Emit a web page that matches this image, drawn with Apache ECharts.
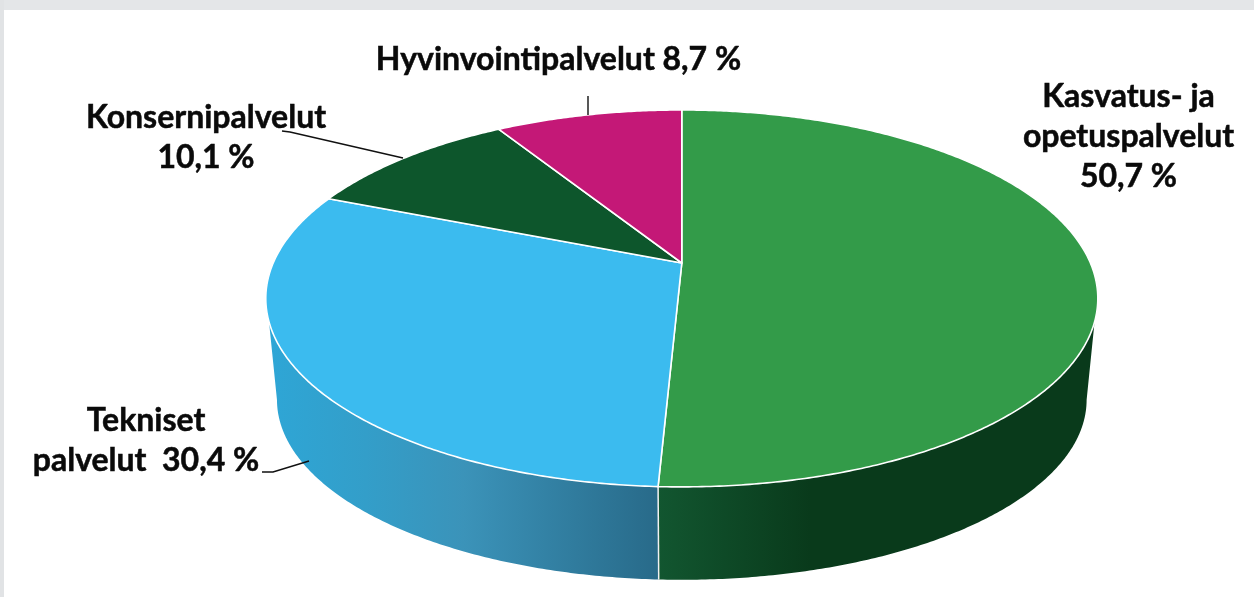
<!DOCTYPE html>
<html>
<head>
    <meta charset="utf-8">
    <script src="https://cdn.jsdelivr.net/npm/echarts@6/dist/echarts.min.js"></script>
    <style>
        html, body { margin: 0; padding: 0; background: #fff; }
    </style>
</head>
<body>
    <div id="main" style="width: 1254px;height:597px;"></div>

    <script>
        // data, clockwise from 12 o'clock
        var names = ['Kasvatus- ja\nopetuspalvelut', 'Tekniset\npalvelut ', 'Konsernipalvelut', 'Hyvinvointipalvelut'];
        var values = [50.7, 30.4, 10.1, 8.7];
        var separators = ['\n', ' ', '\n', ' '];

        var topColors = ['#339b49', '#3bbbef', '#0d562c', '#c41877'];

        // perspective of the tilted disc: top face and bottom face
        var topFace = { x: 681.8, y: 263, a: 408.6, b: 181.8, k: 0.188 };
        var bottomFace = { x: 681.8, y: 366, a: 397.6, b: 173.6, k: 0.188 };

        // where the rim is visible: [angle on top face, angle on bottom face]
        var rimStart = [107.8, 100.9];
        var rimEnd = [252.2, 259.1];

        var total = values.reduce(function (s, v) { return s + v; }, 0);
        var FONT = 'Lato';

        function startAngle(i) {
            var sum = 0;
            for (var n = 0; n < i; n++) sum += values[n];
            return sum / total * 360;
        }

        function project(face, deg) {
            var t = deg * Math.PI / 180;
            var X = Math.sin(t), Y = Math.cos(t);
            var w = 1 + face.k * Y;
            return [face.x + face.a * X / w, face.y - face.b * Y / w];
        }

        function arc(face, from, to) {
            var pts = [];
            var steps = Math.max(2, Math.ceil(Math.abs(to - from) * 2));
            for (var s = 0; s <= steps; s++) {
                pts.push(project(face, from + (to - from) * s / steps));
            }
            return pts;
        }

        function sideGradient(i) {
            if (i == 0) {
                return new echarts.graphic.LinearGradient(0, 0, 1, 0, [
                    { offset: 0, color: '#125630' },
                    { offset: 0.35, color: '#093a1b' },
                    { offset: 1, color: '#093a1b' }
                ]);
            }
            return new echarts.graphic.LinearGradient(0, 0, 1, 0, [
                { offset: 0, color: '#2ea6d6' },
                { offset: 0.25, color: '#339ec9' },
                { offset: 0.5, color: '#3b93b9' },
                { offset: 1, color: '#286a89' }
            ]);
        }

        function renderSide(params, api) {
            var i = params.dataIndex;
            var a0 = startAngle(i), a1 = a0 + api.value(0) / total * 360;
            var pts = null;
            if (i == 0) {
                pts = arc(topFace, rimStart[0], a1).concat(arc(bottomFace, a1, rimStart[1]));
            } else if (i == 1) {
                pts = arc(topFace, a0, rimEnd[0]).concat(arc(bottomFace, rimEnd[1], a0));
            }
            if (!pts) return null;
            return {
                type: 'polygon',
                shape: { points: pts },
                style: { fill: sideGradient(i), stroke: null }
            };
        }

        function renderSeam(params, api) {
            var a = values[0] / total * 360;
            return {
                type: 'line',
                shape: {
                    x1: project(topFace, a)[0], y1: project(topFace, a)[1],
                    x2: project(bottomFace, a)[0], y2: project(bottomFace, a)[1]
                },
                style: { stroke: '#f2f2f2', lineWidth: 1.5 }
            };
        }

        function renderTop(params, api) {
            var i = params.dataIndex;
            var a0 = startAngle(i), a1 = a0 + api.value(0) / total * 360;
            var pts = [[topFace.x, topFace.y]].concat(arc(topFace, a0, a1));
            return {
                type: 'polygon',
                shape: { points: pts },
                style: { fill: topColors[i], stroke: '#ffffff', lineWidth: 1.6, lineJoin: 'round' }
            };
        }

        function labelText(i) {
            return names[i] + separators[i] + values[i].toFixed(1).replace('.', ',') + ' %';
        }

        function label(i, x, y) {
            return {
                type: 'text',
                x: x,
                y: y,
                z: 20,
                style: {
                    text: labelText(i),
                    font: '700 32px ' + FONT,
                    lineHeight: 40,
                    fill: '#0a0a0a',
                    stroke: '#0a0a0a',
                    lineWidth: 0.5,
                    align: 'center',
                    verticalAlign: 'middle'
                }
            };
        }

        function leader(points) {
            return {
                type: 'polyline',
                z: 10,
                shape: { points: points },
                style: { stroke: '#111111', lineWidth: 1.4, fill: null }
            };
        }

        var myChart = echarts.init(document.getElementById('main'), null, { renderer: 'canvas' });

        var seriesData = values.map(function (v) { return [v]; });

        option = {
            backgroundColor: '#ffffff',
            animation: false,
            graphic: [
                { type: 'rect', z: 1, shape: { x: 0, y: 0, width: 1254, height: 10 }, style: { fill: '#e4e6e8' } },
                { type: 'rect', z: 1, shape: { x: 0, y: 0, width: 4, height: 597 }, style: { fill: '#e1e3e5' } },
                leader([[282, 131], [290, 132], [403, 158]]),
                leader([[588, 96], [588, 115]]),
                leader([[262, 472], [273, 472], [309, 461]]),
                label(0, 1128.5, 137),
                label(1, 146, 441),
                label(2, 206, 138),
                label(3, 558.5, 60)
            ],
            series: [{
                type: 'custom',
                coordinateSystem: 'none',
                silent: true,
                z: 2,
                data: seriesData,
                renderItem: renderSide
            }, {
                type: 'custom',
                coordinateSystem: 'none',
                silent: true,
                z: 3,
                data: [[0]],
                renderItem: renderSeam
            }, {
                type: 'custom',
                coordinateSystem: 'none',
                silent: true,
                z: 4,
                data: seriesData,
                renderItem: renderTop
            }]
        };

        myChart.setOption(option);
    </script>
</body>
</html>
